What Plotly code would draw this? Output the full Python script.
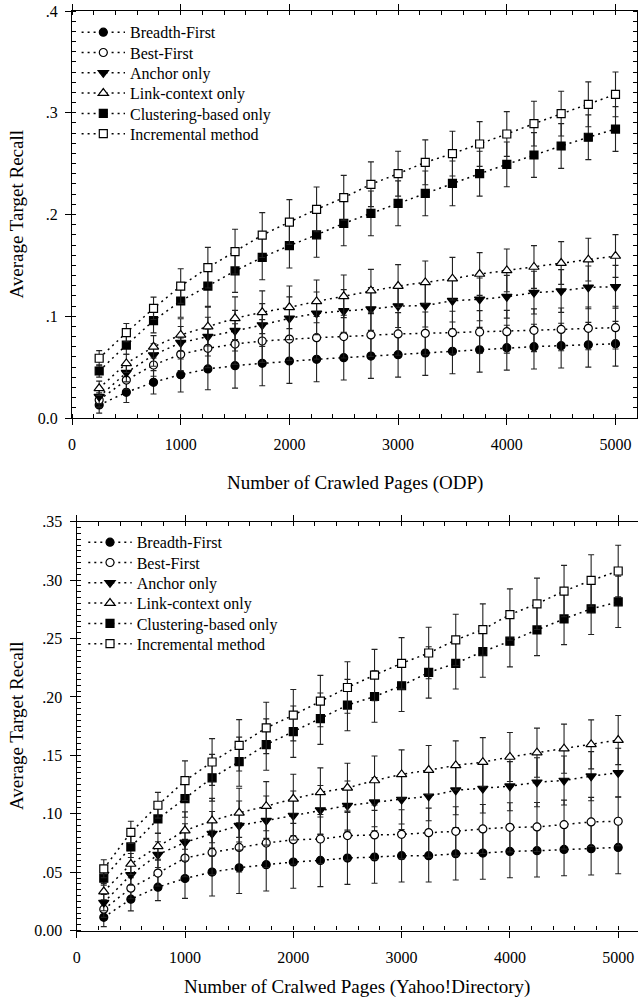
import plotly.graph_objects as go

pages = [250, 500, 750, 1000, 1250, 1500, 1750, 2000, 2250, 2500,
         2750, 3000, 3250, 3500, 3750, 4000, 4250, 4500, 4750, 5000]

series_names = ["Breadth-First", "Best-First", "Anchor only",
                "Link-context only", "Clustering-based only", "Incremental method"]

# ---- ODP (top) ----
odp_breadth = [0.0128, 0.0252, 0.0351, 0.0426, 0.0482, 0.0514, 0.0537, 0.0560, 0.0577, 0.0593,
               0.0609, 0.0622, 0.0639, 0.0655, 0.0671, 0.0691, 0.0701, 0.0711, 0.0720, 0.0730]
odp_best = [0.0177, 0.0373, 0.0521, 0.0626, 0.0685, 0.0727, 0.0757, 0.0776, 0.0789, 0.0800,
            0.0816, 0.0826, 0.0832, 0.0839, 0.0845, 0.0848, 0.0862, 0.0871, 0.0881, 0.0888]
odp_anchor = [0.0210, 0.0445, 0.0619, 0.0740, 0.0800, 0.0858, 0.0914, 0.0980, 0.1029, 0.1052,
              0.1071, 0.1100, 0.1105, 0.1153, 0.1166, 0.1192, 0.1232, 0.1248, 0.1284, 0.1290]
odp_link = [0.0292, 0.0537, 0.0700, 0.0816, 0.0898, 0.0980, 0.1039, 0.1088, 0.1146, 0.1196,
            0.1251, 0.1297, 0.1333, 0.1369, 0.1415, 0.1451, 0.1484, 0.1523, 0.1556, 0.1592]
odp_cluster = [0.0462, 0.0717, 0.0957, 0.1150, 0.1297, 0.1445, 0.1579, 0.1694, 0.1800, 0.1913,
               0.2011, 0.2110, 0.2208, 0.2306, 0.2401, 0.2493, 0.2585, 0.2673, 0.2759, 0.2840]
odp_incr = [0.0587, 0.0839, 0.1078, 0.1297, 0.1477, 0.1635, 0.1798, 0.1926, 0.2051, 0.2165,
            0.2297, 0.2401, 0.2513, 0.2598, 0.2693, 0.2791, 0.2893, 0.2991, 0.3083, 0.3181]

odp_breadth_err = [0.008, 0.010, 0.0115, 0.017, 0.0205, 0.022, 0.022, 0.022, 0.022, 0.022,
                   0.022, 0.022, 0.022, 0.022, 0.022, 0.022, 0.022, 0.022, 0.022, 0.022]
odp_best_err = [0.007, 0.009, 0.011, 0.016, 0.019, 0.020, 0.021, 0.021, 0.021, 0.021,
                0.021, 0.021, 0.021, 0.021, 0.021, 0.021, 0.021, 0.021, 0.021, 0.021]
odp_anchor_err = [0.007, 0.009, 0.011, 0.016, 0.019, 0.020, 0.021, 0.021, 0.021, 0.021,
                  0.021, 0.021, 0.021, 0.021, 0.021, 0.021, 0.021, 0.021, 0.021, 0.021]
odp_link_err = [0.007, 0.009, 0.011, 0.016, 0.019, 0.021, 0.021, 0.021, 0.021, 0.021,
                0.021, 0.021, 0.021, 0.021, 0.021, 0.021, 0.021, 0.021, 0.021, 0.021]
odp_cluster_err = [0.006, 0.009, 0.012, 0.016, 0.020, 0.021, 0.022, 0.022, 0.022, 0.022,
                   0.022, 0.022, 0.022, 0.022, 0.022, 0.022, 0.022, 0.022, 0.022, 0.022]
odp_incr_err = [0.0075, 0.009, 0.011, 0.017, 0.020, 0.022, 0.022, 0.022, 0.022, 0.022,
                0.022, 0.022, 0.022, 0.022, 0.022, 0.022, 0.022, 0.022, 0.022, 0.022]

# ---- Yahoo!Directory (bottom) ----
yd_breadth = [0.0114, 0.0269, 0.0372, 0.0446, 0.0501, 0.0538, 0.0564, 0.0587, 0.0601, 0.0621,
              0.0630, 0.0641, 0.0641, 0.0658, 0.0664, 0.0678, 0.0684, 0.0695, 0.0701, 0.0712]
yd_best = [0.0183, 0.0363, 0.0492, 0.0621, 0.0669, 0.0712, 0.0750, 0.0778, 0.0784, 0.0813,
           0.0819, 0.0824, 0.0838, 0.0850, 0.0870, 0.0884, 0.0887, 0.0907, 0.0930, 0.0936]
yd_anchor = [0.0240, 0.0478, 0.0650, 0.0755, 0.0830, 0.0899, 0.0942, 0.0985, 0.1032, 0.1070,
             0.1099, 0.1122, 0.1150, 0.1202, 0.1216, 0.1236, 0.1270, 0.1285, 0.1322, 0.1351]
yd_link = [0.0334, 0.0570, 0.0721, 0.0856, 0.0942, 0.1008, 0.1065, 0.1128, 0.1183, 0.1222,
           0.1285, 0.1337, 0.1374, 0.1414, 0.1442, 0.1486, 0.1523, 0.1557, 0.1594, 0.1631]
yd_cluster = [0.0449, 0.0716, 0.0956, 0.1130, 0.1308, 0.1446, 0.1592, 0.1703, 0.1814, 0.1930,
              0.2004, 0.2096, 0.2210, 0.2288, 0.2388, 0.2477, 0.2574, 0.2668, 0.2754, 0.2814]
yd_incr = [0.0529, 0.0841, 0.1073, 0.1283, 0.1443, 0.1586, 0.1735, 0.1844, 0.1965, 0.2081,
           0.2187, 0.2288, 0.2376, 0.2488, 0.2577, 0.2705, 0.2797, 0.2906, 0.2997, 0.3078]

yd_breadth_err = [0.008, 0.010, 0.0115, 0.017, 0.0205, 0.022, 0.0225, 0.0225, 0.0225, 0.0225,
                  0.0225, 0.0225, 0.0225, 0.0225, 0.0225, 0.0225, 0.0225, 0.0225, 0.0225, 0.0225]
yd_best_err = [0.007, 0.009, 0.011, 0.016, 0.019, 0.021, 0.021, 0.021, 0.021, 0.021,
               0.021, 0.021, 0.021, 0.021, 0.021, 0.021, 0.021, 0.021, 0.021, 0.021]
yd_anchor_err = [0.007, 0.009, 0.011, 0.016, 0.019, 0.021, 0.021, 0.021, 0.021, 0.021,
                 0.021, 0.021, 0.021, 0.021, 0.021, 0.021, 0.021, 0.021, 0.021, 0.021]
yd_link_err = [0.007, 0.009, 0.011, 0.016, 0.019, 0.021, 0.021, 0.021, 0.021, 0.021,
               0.021, 0.021, 0.021, 0.021, 0.021, 0.021, 0.021, 0.021, 0.021, 0.021]
yd_cluster_err = [0.006, 0.009, 0.012, 0.016, 0.020, 0.021, 0.022, 0.022, 0.022, 0.022,
                  0.022, 0.022, 0.022, 0.022, 0.022, 0.022, 0.022, 0.022, 0.022, 0.022]
yd_incr_err = [0.0077, 0.0095, 0.011, 0.017, 0.020, 0.022, 0.022, 0.022, 0.022, 0.022,
               0.022, 0.022, 0.022, 0.022, 0.022, 0.022, 0.022, 0.022, 0.022, 0.022]

odp_tickvals = [0.0, 0.1, 0.2, 0.3, 0.4]
odp_ticktext = ["0.0", ".1", ".2", ".3", ".4"]
yd_tickvals = [0.0, 0.05, 0.10, 0.15, 0.20, 0.25, 0.30, 0.35]
yd_ticktext = ["0.00", ".05", ".10", ".15", ".20", ".25", ".30", ".35"]
x_tickvals = [0, 1000, 2000, 3000, 4000, 5000]

FONT = "Liberation Serif, Times New Roman, serif"
W, H = 638, 1001


def px_x(p):
    return p / W


def px_y(p):
    return (H - p) / H


styles = [
    dict(symbol="circle", color="black", size=8),
    dict(symbol="circle", color="white", size=8),
    dict(symbol="triangle-down", color="black", size=9),
    dict(symbol="triangle-up", color="white", size=9),
    dict(symbol="square", color="black", size=8),
    dict(symbol="square", color="white", size=8),
]

fig = go.Figure()
legend_layout = {}
ITEMW = 43.4
SYM_OFF = (ITEMW + 10) / 2  # legend symbol centre offset inside a plotly legend item
legend_common = dict(
    font=dict(family=FONT, size=16, color="black"), bgcolor="rgba(0,0,0,0)",
    borderwidth=0, xanchor="left", yanchor="middle", itemwidth=ITEMW,
)
ROW = 20.3


def add_series(vals, errs, xa, ya, first_legend_idx, sym_x, row0_y):
    for i, (name, v, e, st) in enumerate(zip(series_names, vals, errs, styles)):
        idx = first_legend_idx + i
        lname = "legend" if idx == 1 else f"legend{idx}"
        legend_layout[lname] = dict(x=px_x(sym_x - SYM_OFF), y=px_y(row0_y + ROW * i), **legend_common)
        fig.add_trace(go.Scatter(
            x=pages, y=v, name=name, mode="lines+markers",
            xaxis=xa, yaxis=ya, legend=lname,
            line=dict(color="black", width=1.5, dash="2px,4px"),
            marker=dict(symbol=st["symbol"], size=st["size"], color=st["color"],
                        line=dict(color="black", width=1.2)),
            error_y=dict(type="data", array=e, visible=True, color="#222222",
                         thickness=1.1, width=3),
        ))


add_series([odp_breadth, odp_best, odp_anchor, odp_link, odp_cluster, odp_incr],
           [odp_breadth_err, odp_best_err, odp_anchor_err, odp_link_err, odp_cluster_err, odp_incr_err],
           "x", "y", 1, 103.3, 32.3)
add_series([yd_breadth, yd_best, yd_anchor, yd_link, yd_cluster, yd_incr],
           [yd_breadth_err, yd_best_err, yd_anchor_err, yd_link_err, yd_cluster_err, yd_incr_err],
           "x2", "y2", 7, 110, 542.3)

axis_common = dict(
    showgrid=False, zeroline=False, showline=True, linecolor="black", linewidth=1.3,
    ticks="outside", ticklen=6, tickwidth=1.2, tickcolor="black",
    tickfont=dict(family=FONT, size=16, color="black"), automargin=False,
)

fig.update_layout(
    xaxis=dict(domain=[px_x(72), px_x(637)], range=[0, (637 - 72) / 108.7 * 1000],
               anchor="y", tickvals=x_tickvals, mirror="ticks",
               minor=dict(dtick=200, tick0=0, ticks="inside", ticklen=4, tickcolor="black", tickwidth=1),
               ticklabelstandoff=6, **axis_common),
    yaxis=dict(domain=[px_y(418), px_y(11)], range=[0, 0.4], anchor="x",
               tickvals=odp_tickvals, ticktext=odp_ticktext, mirror="ticks",
               minor=dict(dtick=0.01, tick0=0, ticks="inside", ticklen=4, tickcolor="black", tickwidth=1),
               ticklabelstandoff=4, **axis_common),
    xaxis2=dict(domain=[px_x(76.7), 1.0], range=[0, (638 - 76.7) / 108.3 * 1000],
                anchor="y2", tickvals=x_tickvals, mirror="ticks",
                minor=dict(dtick=200, tick0=0, ticks="inside", ticklen=4, tickcolor="black", tickwidth=1),
                ticklabelstandoff=6, **axis_common),
    yaxis2=dict(domain=[px_y(930.6), px_y(521.7)], range=[0, 0.35], anchor="x2",
                tickvals=yd_tickvals, ticktext=yd_ticktext, mirror=False,
                minor=dict(dtick=0.005, tick0=0, ticks="inside", ticklen=4, tickcolor="black", tickwidth=1),
                ticklabelstandoff=4, **axis_common),
)
fig.update_layout(**legend_layout)

title_font = dict(family=FONT, size=19, color="black")
fig.add_annotation(text="Number of Crawled Pages (ODP)", xref="paper", yref="paper",
                   x=px_x(354.5), y=px_y(483), showarrow=False, font=title_font,
                   xanchor="center", yanchor="middle")
fig.add_annotation(text="Average Target Recall", xref="paper", yref="paper",
                   x=px_x(16), y=px_y(214.5), showarrow=False, textangle=-90, font=title_font,
                   xanchor="center", yanchor="middle")
fig.add_annotation(text="Number of Cralwed Pages (Yahoo!Directory)", xref="paper", yref="paper",
                   x=px_x(357), y=px_y(987), showarrow=False, font=title_font,
                   xanchor="center", yanchor="middle")
fig.add_annotation(text="Average Target Recall", xref="paper", yref="paper",
                   x=px_x(16), y=px_y(726), showarrow=False, textangle=-90, font=title_font,
                   xanchor="center", yanchor="middle")

fig.update_layout(
    width=W, height=H, margin=dict(l=0, r=0, t=0, b=0, pad=0, autoexpand=False),
    paper_bgcolor="white", plot_bgcolor="white", showlegend=True,
    font=dict(family=FONT, color="black"),
)

fig.write_html("out.html")
